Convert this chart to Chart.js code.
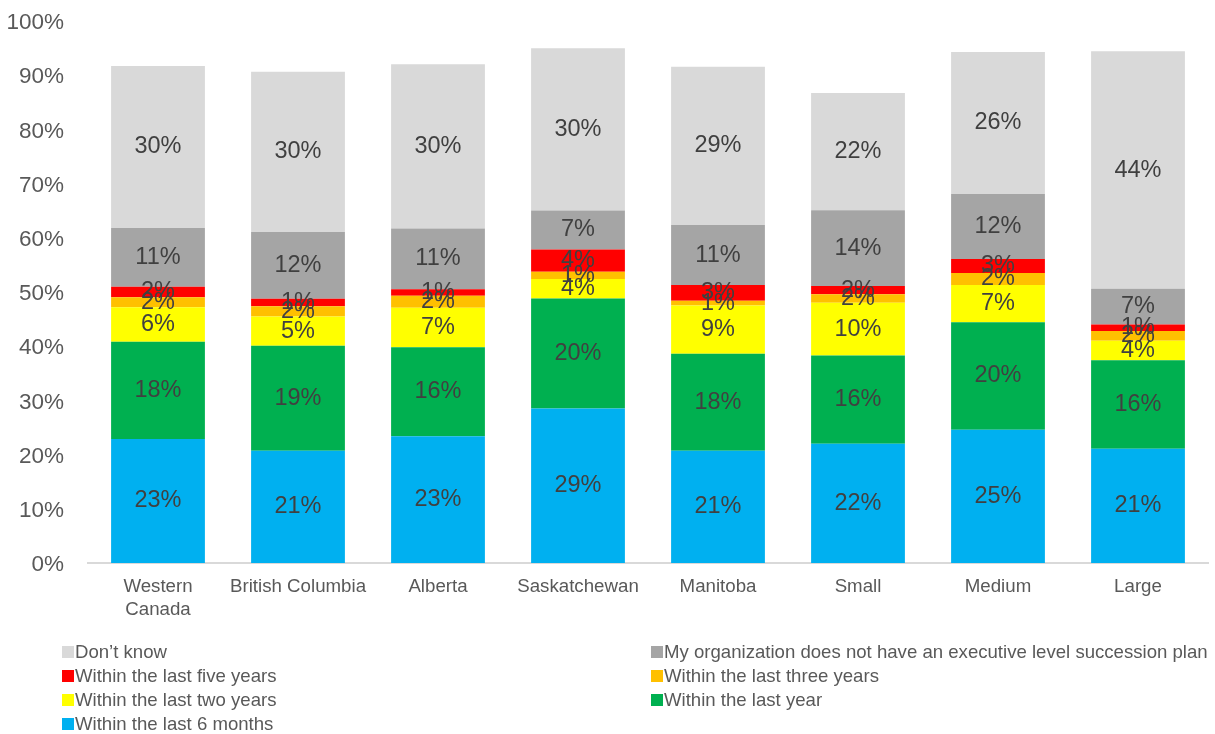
<!DOCTYPE html>
<html>
<head>
<meta charset="utf-8">
<script src="https://cdn.jsdelivr.net/npm/chart.js@4"></script>
<style>
  html, body { margin: 0; padding: 0; background: #fff; }
  #wrap { position: relative; width: 1215px; height: 734px; }
  #chartBox { position: absolute; left: 0; top: 0; width: 1215px; height: 630px; }
  #legend { position: absolute; left: 0; top: 0; width: 1215px; height: 734px; pointer-events: none; }
  .item {
    position: absolute; display: flex; align-items: center;
    font: 18.6px "Liberation Sans", Arial, sans-serif; color: #595959; white-space: nowrap;
    transform: translateY(-50%);
  }
  .item span.box { width: 12px; height: 12px; margin-right: 1px; display: inline-block; }
</style>
</head>
<body>
<div id="wrap">
  <div id="chartBox"><canvas id="chart"></canvas></div>
  <div id="legend"></div>
</div>
<script>
const categories = [['Western', 'Canada'], 'British Columbia', 'Alberta', 'Saskatchewan', 'Manitoba', 'Small', 'Medium', 'Large'];

// stacked from the bottom up
const seriesNames = [
  'Within the last 6 months',
  'Within the last year',
  'Within the last two years',
  'Within the last three years',
  'Within the last five years',
  'My organization does not have an executive level succession plan',
  'Don\u2019t know'
];
const seriesColors = ['#00B0F0', '#00B050', '#FFFF00', '#FFC000', '#FF0000', '#A5A5A5', '#D9D9D9'];

const sixMonths   = [22.9, 20.7, 23.4, 28.5, 20.7, 22.0, 24.6, 21.1];
const lastYear    = [17.9, 19.4, 16.4, 20.3, 17.9, 16.3, 19.8, 16.3];
const twoYears    = [6.4, 5.4, 7.3, 3.6, 8.9, 9.7, 6.9, 3.6];
const threeYears  = [1.85, 1.85, 2.2, 1.35, 0.87, 1.6, 2.2, 1.8];
const fiveYears   = [1.9, 1.4, 1.2, 4.1, 2.9, 1.5, 2.6, 1.2];
const noPlan      = [10.85, 12.3, 11.2, 7.2, 11.1, 14.0, 12.0, 6.6];
const dontKnow    = [29.9, 29.6, 30.3, 29.9, 29.2, 21.6, 26.2, 43.8];

const seriesValues = [sixMonths, lastYear, twoYears, threeYears, fiveYears, noPlan, dontKnow];

const yTicks = [0, 10, 20, 30, 40, 50, 60, 70, 80, 90, 100];

// writes the rounded percentage in the middle of every segment
const segmentLabels = {
  id: 'segmentLabels',
  afterDatasetsDraw(chart) {
    const ctx = chart.ctx;
    ctx.save();
    ctx.font = '23.5px "Liberation Sans", Arial, sans-serif';
    ctx.fillStyle = '#404040';
    ctx.textAlign = 'center';
    ctx.textBaseline = 'middle';
    chart.data.datasets.forEach((ds, i) => {
      chart.getDatasetMeta(i).data.forEach((bar, j) => {
        const mid = (bar.y + bar.base) / 2;
        ctx.fillText(Math.round(ds.data[j]) + '%', bar.x, mid);
      });
    });
    ctx.restore();
  }
};

new Chart(document.getElementById('chart'), {
  type: 'bar',
  data: {
    labels: categories,
    datasets: seriesNames.map((name, i) => ({
      label: name,
      data: seriesValues[i],
      backgroundColor: seriesColors[i],
      borderWidth: 0,
      barPercentage: 0.67,
      categoryPercentage: 1
    }))
  },
  options: {
    responsive: true,
    maintainAspectRatio: false,
    animation: false,
    layout: { padding: { top: 21, right: 7, left: 0, bottom: 0 } },
    plugins: {
      legend: { display: false },
      tooltip: { enabled: false }
    },
    scales: {
      x: {
        stacked: true,
        grid: { display: false, drawTicks: false },
        border: { display: true, color: '#D9D9D9', width: 2 },
        ticks: {
          color: '#595959',
          font: { family: '"Liberation Sans", Arial, sans-serif', size: 18.7 },
          padding: 13,
          maxRotation: 0,
          autoSkip: false
        },
        afterFit: (s) => { s.height = 67; }
      },
      y: {
        stacked: true,
        min: 0,
        max: 100,
        afterBuildTicks: (s) => { s.ticks = yTicks.map((v) => ({ value: v })); },
        grid: { display: false, drawTicks: false },
        border: { display: false },
        ticks: {
          color: '#595959',
          font: { family: '"Liberation Sans", Arial, sans-serif', size: 22.5 },
          padding: 24,
          labelOffset: 2,
          callback: (v) => v + '%'
        },
        // tick padding is horizontal here; keep it from pushing the plot down
        afterFit: (s) => { s.width = 88; s.paddingTop = 0; s.paddingBottom = 0; }
      }
    }
  },
  plugins: [segmentLabels]
});

// legend: two columns, listed from the top of the stack down
const legendEl = document.getElementById('legend');
const colX = [62, 651];
const rowY = [652, 676, 700, 724];
seriesNames.slice().reverse().forEach((name, k) => {
  const i = seriesNames.length - 1 - k;
  const el = document.createElement('div');
  el.className = 'item';
  el.style.left = colX[k % 2] + 'px';
  el.style.top = rowY[Math.floor(k / 2)] + 'px';
  el.innerHTML = '<span class="box" style="background:' + seriesColors[i] + '"></span>' + name;
  legendEl.appendChild(el);
});
</script>
</body>
</html>
